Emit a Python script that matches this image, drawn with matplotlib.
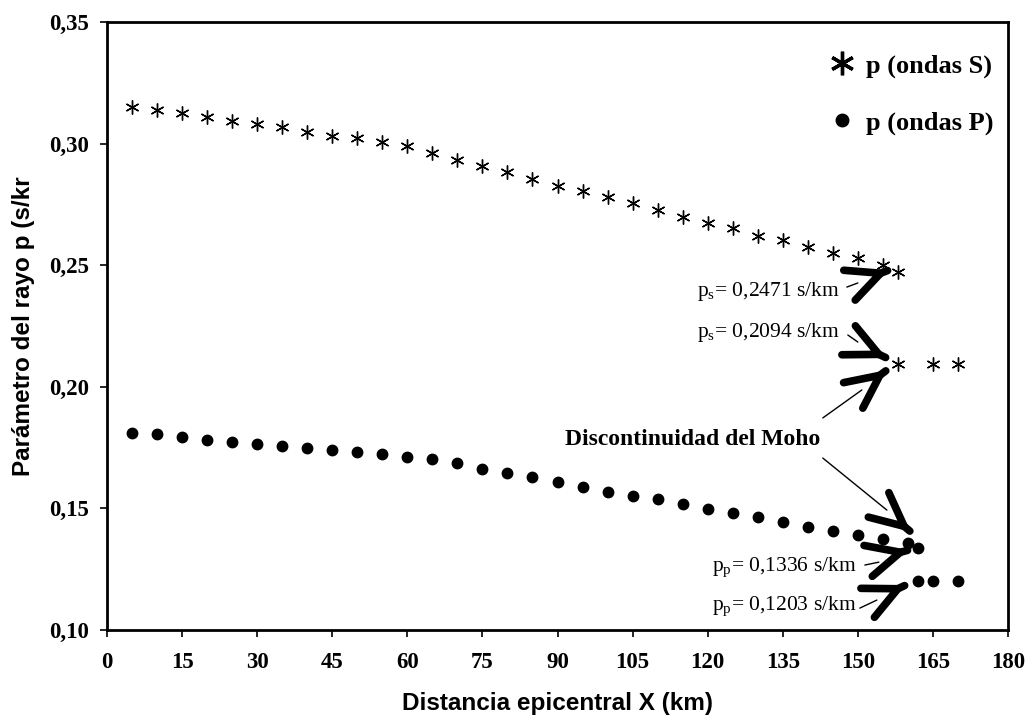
import numpy as np
import matplotlib
matplotlib.use("Agg")
import matplotlib.pyplot as plt
from matplotlib.lines import Line2D

# datos
xS = [5, 10, 15, 20, 25, 30, 35, 40, 45, 50, 55, 60, 65, 70, 75,
      80, 85, 90, 95, 100, 105, 110, 115, 120, 125, 130, 135, 140, 145, 150,
      155, 158]
pS = [0.3150, 0.3138, 0.3126, 0.3109, 0.3093, 0.3081, 0.3068, 0.3048, 0.3031, 0.3023,
      0.3007, 0.2990, 0.2961, 0.2933, 0.2910,
      0.2883, 0.2854, 0.2826, 0.2805, 0.2780, 0.2756, 0.2727, 0.2698, 0.2674, 0.2653,
      0.2620, 0.2604, 0.2575, 0.2550, 0.2530,
      0.2500, 0.2471]
xS2 = [158, 165, 170]
pS2 = [0.2094, 0.2094, 0.2094]

xP = [5, 10, 15, 20, 25, 30, 35, 40, 45, 50, 55, 60, 65, 70, 75, 80, 85, 90, 95,
      100, 105, 110, 115, 120, 125, 130, 135, 140, 145, 150, 155, 160, 162]
pP = [0.1810, 0.1806, 0.1794, 0.1781, 0.1773, 0.1765, 0.1757, 0.1748, 0.1740, 0.1732,
      0.1724, 0.1711, 0.1703, 0.1687, 0.1662, 0.1646, 0.1629, 0.1609, 0.1588,
      0.1567, 0.1553, 0.1538, 0.1518, 0.1498, 0.1481, 0.1465, 0.1444, 0.1424, 0.1407,
      0.1391, 0.1374, 0.1358, 0.1336]
xP2 = [162, 165, 170]
pP2 = [0.1203, 0.1203, 0.1203]

xticks = list(range(0, 181, 15))
yticks = [0.10, 0.15, 0.20, 0.25, 0.30, 0.35]
ylabels = ["0,10", "0,15", "0,20", "0,25", "0,30", "0,35"]

SERIF = "Liberation Serif"
SANS = "Liberation Sans"
ASTER = (6, 2, 0)


def chevron(ax, xy, ang):
    # cabeza de flecha gruesa tipo ">" apuntando en la direccion ang (grados)
    dx, dy = np.cos(np.radians(ang)), np.sin(np.radians(ang))
    ax.annotate("", xy=xy, xytext=(-dx * 1.0, -dy * 1.0), textcoords="offset points",
                arrowprops=dict(arrowstyle="->,head_length=2.4,head_width=1.15",
                                lw=5.5, color="black", shrinkA=0, shrinkB=0,
                                mutation_scale=10, joinstyle="miter"))


def leader(ax, p0, p1):
    ax.annotate("", xy=p1, xytext=p0,
                arrowprops=dict(arrowstyle="-", lw=1.0, color="black",
                                shrinkA=0, shrinkB=0))


def main():
    fig = plt.figure(figsize=(10.29, 7.15), dpi=100)
    ax = fig.add_axes([0.104, 0.1189, 0.8756, 0.8503])

    ax.plot(xS, pS, ls="none", marker=ASTER, ms=10, mew=1.0, color="black")
    ax.plot(xS2, pS2, ls="none", marker=ASTER, ms=10, mew=1.0, color="black")
    ax.plot(xP, pP, ls="none", marker="o", ms=7.5, color="black")
    ax.plot(xP2, pP2, ls="none", marker="o", ms=7.5, color="black")

    ax.set_xlim(0, 180)
    ax.set_ylim(0.10, 0.35)
    ax.set_xticks(xticks)
    ax.set_xticklabels([str(t) for t in xticks])
    ax.set_yticks(yticks)
    ax.set_yticklabels(ylabels)
    for lab in ax.get_xticklabels() + ax.get_yticklabels():
        lab.set_fontfamily(SERIF)
        lab.set_fontweight("bold")
        lab.set_fontsize(16.5)
    ax.tick_params(axis="both", direction="out", length=5, width=1.2)
    ax.tick_params(axis="x", pad=11)
    ax.tick_params(axis="y", pad=8)
    for s in ax.spines.values():
        s.set_linewidth(2.0)

    ax.set_xlabel("Distancia epicentral X (km)", family=SANS, weight="bold",
                  fontsize=17.5, labelpad=13.5)
    ax.set_ylabel("Parámetro del rayo p (s/kr", family=SANS, weight="bold",
                  fontsize=17.5, labelpad=10)

    # leyenda
    handles = [Line2D([], [], ls="none", marker=ASTER, ms=17, mew=2.4, color="black"),
               Line2D([], [], ls="none", marker="o", ms=9, color="black")]
    ax.legend(handles, ["p (ondas S)", "p (ondas P)"], loc="upper right",
              bbox_to_anchor=(0.9865, 0.952), frameon=False,
              prop=dict(family=SERIF, weight="bold", size=19),
              labelspacing=1.25, handlelength=1.0, handletextpad=0.4,
              borderaxespad=0.0, borderpad=0.1)

    # anotaciones
    tkw = dict(family=SERIF, fontsize=15.5, ha="right", va="center")
    ax.text(146.4, 0.2390, r"p$_\mathregular{s}$= 0,2471 s/km", **tkw)
    ax.text(146.4, 0.2222, r"p$_\mathregular{s}$= 0,2094 s/km", **tkw)
    ax.text(149.8, 0.1257, r"p$_\mathregular{p}$= 0,1336 s/km", **tkw)
    ax.text(149.8, 0.1095, r"p$_\mathregular{p}$= 0,1203 s/km", **tkw)
    ax.text(142.5, 0.1785, "Discontinuidad del Moho", family=SERIF, weight="bold",
            fontsize=17, ha="right", va="center")

    leader(ax, (147.8, 0.2410), (150.0, 0.2427))
    leader(ax, (148.0, 0.2213), (150.0, 0.2184))
    leader(ax, (143.0, 0.1872), (150.8, 0.1987))
    leader(ax, (143.0, 0.1707), (155.8, 0.1493))
    leader(ax, (151.4, 0.1267), (154.2, 0.1279))
    leader(ax, (150.4, 0.1090), (153.8, 0.1123))

    chevron(ax, (156.2, 0.2480), 21)
    chevron(ax, (155.8, 0.2118), -25)
    chevron(ax, (155.8, 0.2069), 37)
    chevron(ax, (160.6, 0.1403), -40)
    chevron(ax, (160.2, 0.1329), 15)
    chevron(ax, (159.6, 0.1185), 25)

    fig.savefig("out.png", dpi=100)


if __name__ == "__main__":
    main()
